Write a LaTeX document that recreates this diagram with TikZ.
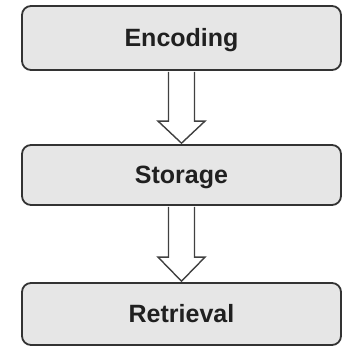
\documentclass[tikz,border=0pt]{standalone}
\usepackage{fontspec}
\setmainfont{Liberation Sans}
\usetikzlibrary{calc}
\definecolor{boxfill}{HTML}{E6E6E6}
\definecolor{boxline}{HTML}{333333}
\definecolor{arrline}{HTML}{404040}
\definecolor{txt}{HTML}{202020}
\tikzset{
  stagebox/.style={draw=boxline, line width=1.8pt, fill=boxfill, rounded corners=9pt,
    minimum width=319pt, inner sep=0pt, text=txt, text height=17.9pt, text depth=0pt,
    font=\fontsize{25}{28}\selectfont\bfseries},
  blockarrow/.style={draw=arrline, line width=1.4pt, fill=white, line join=miter}
}
\begin{document}
\begin{tikzpicture}[x=1pt,y=1pt]
\useasboundingbox (0,0) rectangle (345,-348);
\node[stagebox, minimum height=64pt] (e) at (181.5,-38) {Encoding};
\node[stagebox, minimum height=60pt] (s) at (181.5,-175) {Storage};
\node[stagebox, minimum height=62pt] (r) at (181.5,-314) {Retrieval};
\draw[blockarrow] ($(e.south)+(-13,-0.9)$) -- ($(s.north)+(-13,23)$) -- ($(s.north)+(-23.5,23)$) -- ($(s.north)+(0,0.9)$) -- ($(s.north)+(23.5,23)$) -- ($(s.north)+(13,23)$) -- ($(e.south)+(13,-0.9)$);
\draw[blockarrow] ($(s.south)+(-13,-0.9)$) -- ($(r.north)+(-13,25)$) -- ($(r.north)+(-23.5,25)$) -- ($(r.north)+(0,0.9)$) -- ($(r.north)+(23.5,25)$) -- ($(r.north)+(13,25)$) -- ($(s.south)+(13,-0.9)$);
\end{tikzpicture}
\end{document}
